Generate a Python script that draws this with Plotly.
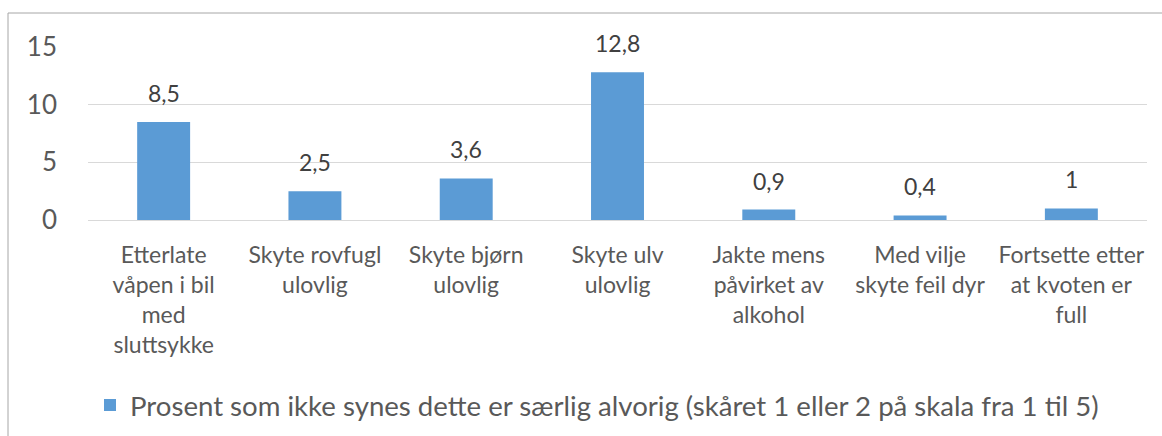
import plotly.graph_objects as go

categories = [
    "Etterlate<br>våpen i bil<br>med<br>sluttsykke",
    "Skyte rovfugl<br>ulovlig",
    "Skyte bjørn<br>ulovlig",
    "Skyte ulv<br>ulovlig",
    "Jakte mens<br>påvirket av<br>alkohol",
    "Med vilje<br>skyte feil dyr",
    "Fortsette etter<br>at kvoten er<br>full",
]
values = [8.5, 2.5, 3.6, 12.8, 0.9, 0.4, 1]
value_labels = ["8,5", "2,5", "3,6", "12,8", "0,9", "0,4", "1"]
series_name = "Prosent som ikke synes dette er særlig alvorig (skåret 1 eller 2 på skala fra 1 til 5)"
y_ticks = [0, 5, 10, 15]

FONT = "Lato"
TXT = "#595959"

L, R, T, B = 88, 15, 47, 216
W, H = 1162, 436
pw, ph = W - L - R, H - T - B

fig = go.Figure()
fig.add_trace(go.Bar(
    x=categories, y=values, name=series_name,
    marker=dict(color="#5B9BD5", line=dict(width=0)),
    width=0.35, showlegend=True,
))

for c, v, t in zip(categories, values, value_labels):
    fig.add_annotation(x=c, y=v, text=t, showarrow=False, yanchor="bottom",
                       yshift=13, font=dict(family=FONT, size=23, color="#404040"))

def px_x(p):
    return (p - L) / pw

def px_y(p):
    return (H - B - p) / ph

fig.add_shape(type="rect", xref="paper", yref="paper",
              x0=px_x(8), x1=px_x(1200), y0=px_y(13), y1=px_y(500),
              line=dict(color="#A6A6A6", width=1), fillcolor="rgba(0,0,0,0)", layer="below")

fig.update_layout(
    width=W, height=H,
    margin=dict(l=L, r=R, t=T, b=B, pad=0, autoexpand=False),
    paper_bgcolor="white", plot_bgcolor="white",
    font=dict(family=FONT, color=TXT),
    bargap=0.65,
    showlegend=True,
    legend=dict(orientation="h", x=px_x(90), xanchor="left", y=px_y(405), yanchor="middle",
                font=dict(family=FONT, size=27.6, color=TXT), itemwidth=30,
                bgcolor="rgba(0,0,0,0)"),
    xaxis=dict(showgrid=False, showline=False, zeroline=False, ticks="",
               tickfont=dict(family=FONT, size=23, color=TXT), ticklabelstandoff=19,
               fixedrange=True, automargin=False),
    yaxis=dict(range=[0, 15], tickvals=y_ticks, ticktext=[str(v) for v in y_ticks],
               showgrid=True, gridcolor="#D9D9D9", gridwidth=1, zeroline=True,
               zerolinecolor="#D9D9D9", zerolinewidth=1, showline=False, ticks="",
               tickfont=dict(family=FONT, size=26, color=TXT), ticklabelstandoff=30,
               fixedrange=True, automargin=False),
)

fig.write_html("out.html", config={"displayModeBar": False},
               post_script="document.body.style.margin='0';")
